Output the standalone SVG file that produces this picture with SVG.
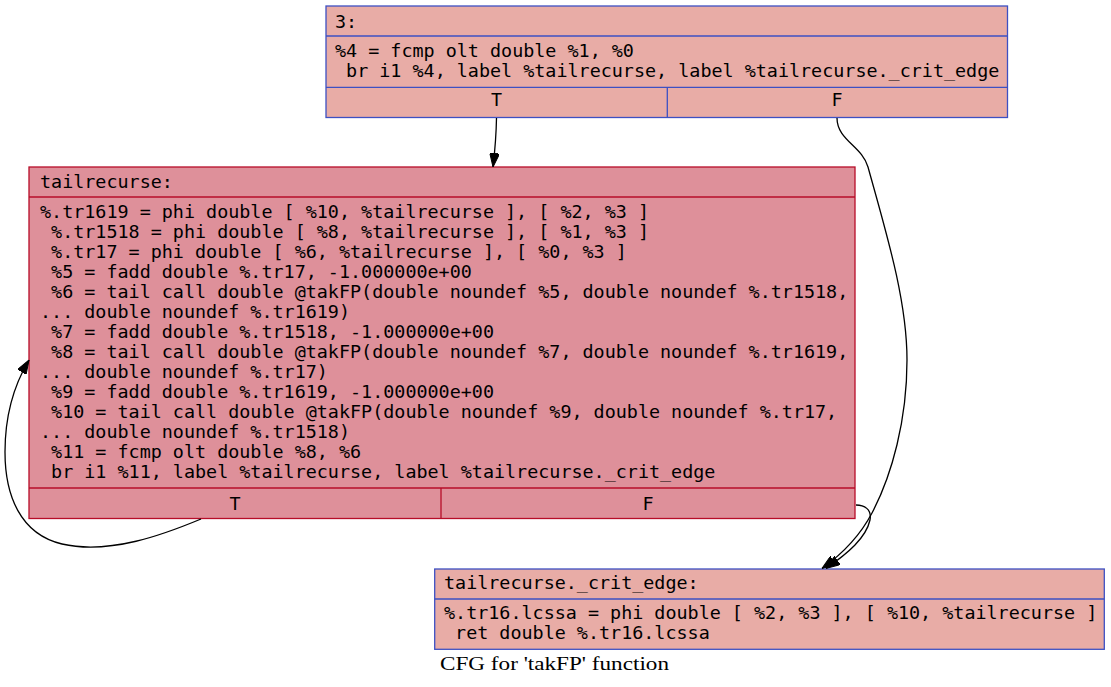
<svg xmlns="http://www.w3.org/2000/svg" width="1111" height="687" viewBox="0 0 1111 687">
  <style>
    .code { font-family: "DejaVu Sans Mono", "Liberation Mono", monospace; font-size: 18.4px; fill: #000; }
    .mid { text-anchor: middle; }
    .cool rect, .cool line { stroke: #3d50c3; }
    .cool rect { fill: #e8aca6; }
    .hot rect, .hot line { stroke: #b70d28; }
    .hot rect { fill: #de909a; }
    rect, line { stroke-width: 1.3; }
    .edge { fill: none; stroke: #000; stroke-width: 1.3; marker-end: url(#arrow); }
    .caption { font-family: "Liberation Serif", "Times New Roman", serif; font-size: 18.67px; fill: #000; }
  </style>
  <defs>
    <marker id="arrow" viewBox="0 0 14 10" refX="14" refY="5" markerWidth="14" markerHeight="10" markerUnits="userSpaceOnUse" orient="auto">
      <path d="M0,0 L14,5 L0,10 z" fill="#000" stroke="#000" stroke-width="1"/>
    </marker>
  </defs>
  <rect width="1111" height="687" fill="#fff"/>

  <!-- entry block -->
  <g id="node-3" class="cool">
    <rect x="326" y="6" width="681.5" height="111.5"/>
    <line x1="326" y1="36" x2="1007.5" y2="36"/>
    <line x1="326" y1="87.3" x2="1007.5" y2="87.3"/>
    <line x1="667.3" y1="87.3" x2="667.3" y2="117.5"/>
    <text class="code" x="335" y="27.5">3:</text>
    <text class="code" xml:space="preserve" x="335" y="56.5">%4 = fcmp olt double %1, %0</text>
    <text class="code" xml:space="preserve" x="335" y="76.5"> br i1 %4, label %tailrecurse, label %tailrecurse._crit_edge</text>
    <text class="code mid" x="496.5" y="106">T</text>
    <text class="code mid" x="837" y="106">F</text>
  </g>

  <!-- loop body -->
  <g id="node-tailrecurse" class="hot">
    <rect x="29" y="167" width="826" height="351.5"/>
    <line x1="29" y1="197" x2="855" y2="197"/>
    <line x1="29" y1="488" x2="855" y2="488"/>
    <line x1="441" y1="488" x2="441" y2="518.5"/>
    <text class="code" x="40" y="188">tailrecurse:</text>
    <text class="code" xml:space="preserve" x="40" y="217.5">%.tr1619 = phi double [ %10, %tailrecurse ], [ %2, %3 ]</text>
    <text class="code" xml:space="preserve" x="40" y="237.5"> %.tr1518 = phi double [ %8, %tailrecurse ], [ %1, %3 ]</text>
    <text class="code" xml:space="preserve" x="40" y="257.5"> %.tr17 = phi double [ %6, %tailrecurse ], [ %0, %3 ]</text>
    <text class="code" xml:space="preserve" x="40" y="277.5"> %5 = fadd double %.tr17, -1.000000e+00</text>
    <text class="code" xml:space="preserve" x="40" y="297.5"> %6 = tail call double @takFP(double noundef %5, double noundef %.tr1518,</text>
    <text class="code" xml:space="preserve" x="40" y="317.5">... double noundef %.tr1619)</text>
    <text class="code" xml:space="preserve" x="40" y="337.5"> %7 = fadd double %.tr1518, -1.000000e+00</text>
    <text class="code" xml:space="preserve" x="40" y="357.5"> %8 = tail call double @takFP(double noundef %7, double noundef %.tr1619,</text>
    <text class="code" xml:space="preserve" x="40" y="377.5">... double noundef %.tr17)</text>
    <text class="code" xml:space="preserve" x="40" y="397.5"> %9 = fadd double %.tr1619, -1.000000e+00</text>
    <text class="code" xml:space="preserve" x="40" y="417.5"> %10 = tail call double @takFP(double noundef %9, double noundef %.tr17,</text>
    <text class="code" xml:space="preserve" x="40" y="437.5">... double noundef %.tr1518)</text>
    <text class="code" xml:space="preserve" x="40" y="457.5"> %11 = fcmp olt double %8, %6</text>
    <text class="code" xml:space="preserve" x="40" y="477.5"> br i1 %11, label %tailrecurse, label %tailrecurse._crit_edge</text>
    <text class="code mid" x="235" y="509.5">T</text>
    <text class="code mid" x="648" y="509.5">F</text>
  </g>

  <!-- exit block -->
  <g id="node-crit-edge" class="cool">
    <rect x="434.7" y="569" width="669.6" height="80.3"/>
    <line x1="434.7" y1="599" x2="1104.3" y2="599"/>
    <text class="code" x="444" y="589">tailrecurse._crit_edge:</text>
    <text class="code" xml:space="preserve" x="444" y="619">%.tr16.lcssa = phi double [ %2, %3 ], [ %10, %tailrecurse ]</text>
    <text class="code" xml:space="preserve" x="444" y="639"> ret double %.tr16.lcssa</text>
  </g>

  <!-- control-flow edges -->
  <g id="edges">
    <path class="edge" d="M496.5,118 C496.3,130 495,150 493,167"/>
    <path class="edge" d="M837,118 C837,140 862,146 868,167 C886,232 907,300 907,360 C907,420 892,475 872,513 C862,532 845,552 822,568.5"/>
    <path class="edge" d="M856,505 C864,505 872,509 870,520 C866,538 848,553 826,568.5"/>
    <path class="edge" d="M201,519 C165,534 110,555 62,544 C20,534 5,495 5,452 C5,415 14,385 29,360"/>
  </g>

  <text class="caption" x="440" y="670" textLength="229" lengthAdjust="spacingAndGlyphs">CFG for 'takFP' function</text>
</svg>
